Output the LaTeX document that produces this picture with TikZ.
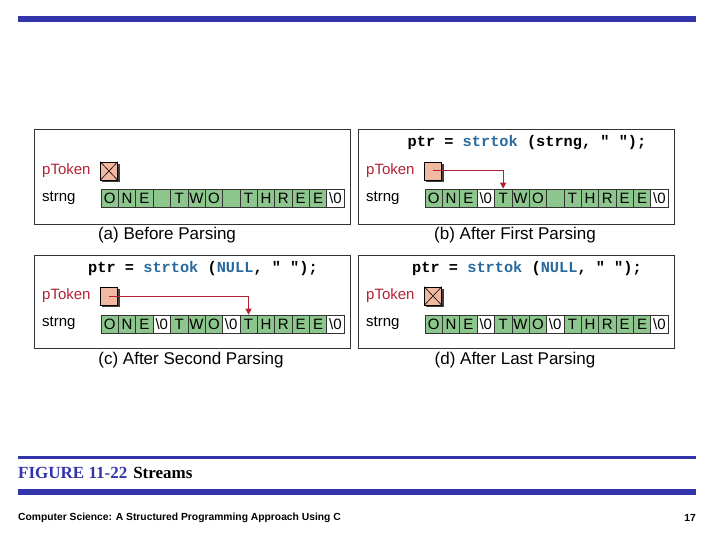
\documentclass[tikz,border=0pt]{standalone}
\usepackage{fontspec}
\setmainfont{Liberation Sans}
\newfontfamily\codefont{Liberation Mono}
\newfontfamily\serfont{Liberation Serif}
\usetikzlibrary{arrows.meta}
\definecolor{barblue}{HTML}{3333AA}
\definecolor{gcol}{HTML}{8DC68D}
\definecolor{wcol}{HTML}{FFFFFF}
\definecolor{boxcol}{HTML}{F2B9A2}
\definecolor{redtxt}{HTML}{B22234}
\definecolor{codeblue}{HTML}{2A6A9E}
\tikzset{
  panelbox/.style={draw=black!80,line width=0.8pt},
  cell/.style={draw=black!80,line width=0.6pt,minimum width=17.36pt,minimum height=18pt,inner sep=0pt,font=\fontsize{15}{15}\selectfont},
  ptrbox/.style={draw=black,line width=0.6pt,fill=boxcol,minimum width=17pt,minimum height=18pt,inner sep=0pt},
  lbl/.style={anchor=west,inner sep=0pt,font=\fontsize{15}{15}\selectfont},
  captext/.style={inner sep=0pt,font=\fontsize{17}{17}\selectfont},
  code/.style={inner sep=0pt,font=\codefont\bfseries\fontsize{15.3}{15.3}\selectfont},
  arr/.style={draw=redtxt,line width=1pt,-{Triangle[length=6pt,width=6pt]}}
}
\newcommand\strgrow[3]{% prefix, x, list
  \foreach \c/\f [count=\i from 0] in {#3}{
    \node[cell,fill=\f col] (#1c\i) at ({#2+8.68+17.36*\i},198) {\c};
  }
}
\newcommand\ptrlabels[4]{% prefix, x, y of ptoken row
  \node[lbl,text=redtxt] (#1pl) at (#2+8,#3) {pToken};
  \node[lbl] (#1sl) at (#2+8,#3+27) {strng};
  \fill[black!75] (#2+68,#3-7) rectangle (#2+86,#3+11);
  \node[ptrbox] (#1pb) at (#2+75,#3) {};
}
\begin{document}
\begin{tikzpicture}[x=1pt,y=-1pt]
\useasboundingbox (0,0) rectangle (720,540);
\fill[barblue] (18,16) rectangle (696,22);
% panel a
\node[panelbox,minimum width=316pt,minimum height=95pt,anchor=north west] (pa) at (34,129) {};
\ptrlabels{a}{34}{171}{}
\draw[line width=0.6pt] (apb.north west)--(apb.south east) (apb.north east)--(apb.south west);
\strgrow{a}{101}{O/g,N/g,E/g,{}/g,T/g,W/g,O/g,{}/g,T/g,H/g,R/g,E/g,E/g,{\textbackslash0}/w}
\node[captext] (capa) at (167,235) {(a) Before Parsing};
% panel b
\node[panelbox,minimum width=316pt,minimum height=95pt,anchor=north west] (pb) at (358,129) {};
\node[code] (codeb) at (527,143) {ptr = \textcolor{codeblue}{strtok} (strng, " ");};
\ptrlabels{b}{358}{171}{}
\strgrow{b}{425}{O/g,N/g,E/g,{\textbackslash0}/w,T/g,W/g,O/g,{}/g,T/g,H/g,R/g,E/g,E/g,{\textbackslash0}/w}
\draw[arr] (bpb.center) -| (bc4.north);
\node[captext] (capb) at (515,235) {(b) After First Parsing};
% panel c
\begin{scope}[yshift=-126pt]
\node[panelbox,minimum width=316pt,minimum height=93pt,anchor=north west] (pc) at (34,129) {};
\node[code] (codec) at (203,143) {ptr = \textcolor{codeblue}{strtok} (\textcolor{codeblue}{NULL}, " ");};
\ptrlabels{c}{34}{170}{}
\strgrow{c}{101}{O/g,N/g,E/g,{\textbackslash0}/w,T/g,W/g,O/g,{\textbackslash0}/w,T/g,H/g,R/g,E/g,E/g,{\textbackslash0}/w}
\draw[arr] (cpb.center) -| (cc8.north);
\node[captext] (capc) at (191,234) {(c) After Second Parsing};
% panel d
\node[panelbox,minimum width=316pt,minimum height=93pt,anchor=north west] (pd) at (358,129) {};
\node[code] (coded) at (527,143) {ptr = \textcolor{codeblue}{strtok} (\textcolor{codeblue}{NULL}, " ");};
\ptrlabels{d}{358}{170}{}
\draw[line width=0.6pt] (dpb.north west)--(dpb.south east) (dpb.north east)--(dpb.south west);
\strgrow{d}{425}{O/g,N/g,E/g,{\textbackslash0}/w,T/g,W/g,O/g,{\textbackslash0}/w,T/g,H/g,R/g,E/g,E/g,{\textbackslash0}/w}
\node[captext] (capd) at (515,234) {(d) After Last Parsing};
\end{scope}
% caption and footer
\fill[barblue] (18,456) rectangle (696,459);
\node[anchor=west,inner sep=0pt,font=\serfont\bfseries\fontsize{17}{17}\selectfont] (fig) at (18,473) {\textcolor{barblue}{FIGURE 11-22}\hspace{6pt}Streams};
\fill[barblue] (18,489) rectangle (696,495);
\node[anchor=west,inner sep=0pt,font=\bfseries\fontsize{10.3}{10.3}\selectfont] (foot) at (18,518) {Computer Science: A Structured Programming Approach Using C};
\node[anchor=east,inner sep=0pt,font=\bfseries\fontsize{10.3}{10.3}\selectfont] (pg) at (696,518) {17};
\end{tikzpicture}
\end{document}
